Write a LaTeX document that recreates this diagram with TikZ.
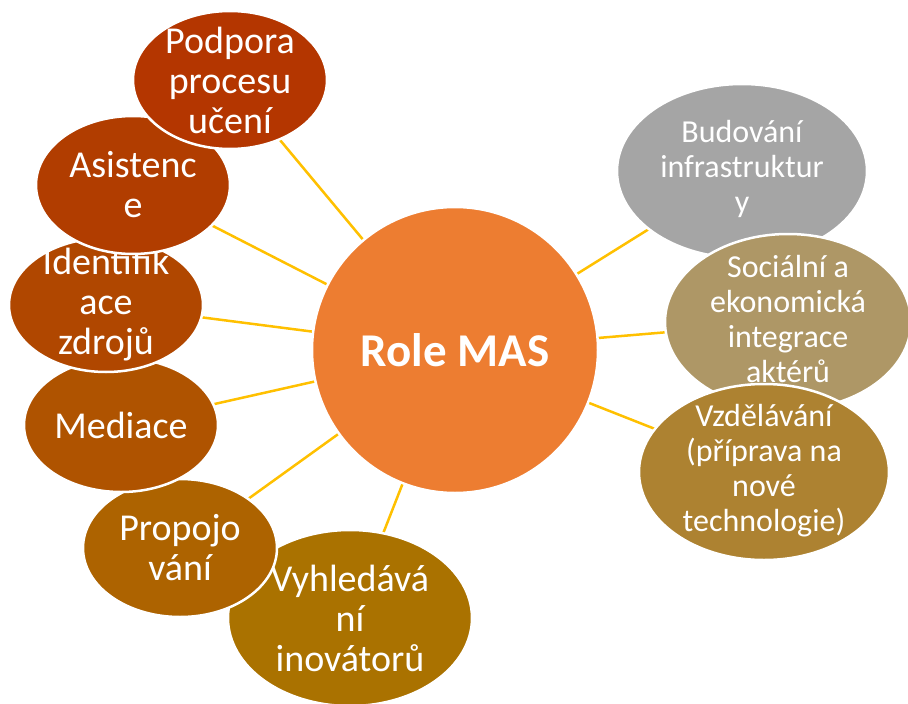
\documentclass[tikz,border=0pt]{standalone}
\usepackage{fontspec}
\setmainfont{Carlito}
\usetikzlibrary{shapes.geometric}
\definecolor{cPod}{HTML}{B43600}
\definecolor{cAsi}{HTML}{B13D00}
\definecolor{cIde}{HTML}{B04700}
\definecolor{cMed}{HTML}{AF5300}
\definecolor{cPro}{HTML}{AD6300}
\definecolor{cVyh}{HTML}{AA7200}
\definecolor{cBud}{HTML}{A5A5A5}
\definecolor{cSoc}{HTML}{AE9766}
\definecolor{cVzd}{HTML}{AD8231}
\definecolor{cRole}{HTML}{ED7D31}
\definecolor{linkyellow}{HTML}{FFC000}
\begin{document}
\begin{tikzpicture}[x=1pt,y=-1pt,
  bubble/.style={ellipse, draw=white, line width=2.5pt, inner sep=0pt},
  lbl/.style={text=white, align=center, inner sep=0pt, font=\fontsize{38}{40}\selectfont},
  rlbl/.style={text=white, align=center, inner sep=0pt, font=\fontsize{32}{35}\selectfont},
  link/.style={draw=linkyellow, line width=2.5pt}]
\useasboundingbox (0,0) rectangle (908,704);
% centres
\coordinate (pC) at (455,350);
\coordinate (pPod) at (230,80);
\coordinate (pAsi) at (133,185);
\coordinate (pIde) at (106,305);
\coordinate (pMed) at (121,425);
\coordinate (pPro) at (180,548);
\coordinate (pVyh) at (350,618);
\coordinate (pBud) at (742,171);
\coordinate (pSoc) at (788,322);
\coordinate (pVzd) at (764,472);
% connectors
\foreach \t in {pPod,pAsi,pIde,pMed,pPro,pVyh,pBud,pSoc,pVzd}
  \draw[link] (pC) -- (\t);
% central circle
\node[circle, fill=cRole, draw=white, line width=2.5pt, minimum size=286pt, inner sep=0pt] (role) at (pC) {};
\node[text=white, font=\fontsize{47}{50}\selectfont\bfseries] (roleT) at (pC) {Role MAS};
% left chain
\node[bubble, fill=cVyh, minimum width=244pt, minimum height=176pt] (vyh) at (pVyh) {};
\node[lbl] (vyhT) at (pVyh) {Vyhledává\\ní\\inovátorů};
\node[bubble, fill=cPro, minimum width=194pt, minimum height=138pt] (pro) at (pPro) {};
\node[lbl] (proT) at (pPro) {Propojo\\vání};
\node[bubble, fill=cMed, minimum width=194pt, minimum height=134pt] (med) at (pMed) {};
\node[lbl] (medT) at (pMed) {Mediace};
\node[bubble, fill=cIde, minimum width=194pt, minimum height=134pt] (ide) at (pIde) {};
\node[lbl] (ideT) at (pIde) {Identifik\\ace\\zdrojů};
\node[bubble, fill=cAsi, minimum width=194pt, minimum height=138pt] (asi) at (pAsi) {};
\node[lbl] (asiT) at (pAsi) {Asistenc\\e};
\node[bubble, fill=cPod, minimum width=194pt, minimum height=138pt] (pod) at (pPod) {};
\node[lbl] (podT) at (pPod) {Podpora\\procesu\\učení};
% right chain
\node[bubble, fill=cBud, minimum width=250pt, minimum height=174pt] (bud) at (pBud) {};
\node[rlbl] (budT) at ([yshift=2pt]pBud) {Budování\\infrastruktur\\y};
\node[bubble, fill=cSoc, minimum width=246pt, minimum height=176pt] (soc) at (pSoc) {};
\node[rlbl] (socT) at ([yshift=3pt]pSoc) {Sociální a\\ekonomická\\integrace\\aktérů};
\node[bubble, fill=cVzd, minimum width=250pt, minimum height=176pt] (vzd) at (pVzd) {};
\node[rlbl] (vzdT) at ([yshift=1pt]pVzd) {Vzdělávání\\(příprava na\\nové\\technologie)};
\end{tikzpicture}
\end{document}
